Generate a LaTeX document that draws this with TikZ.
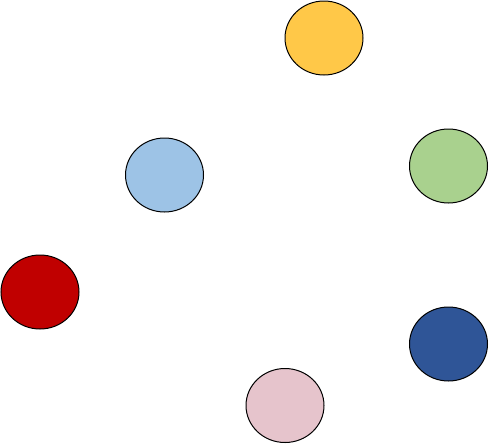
\documentclass[tikz,border=0pt]{standalone}
\usepackage{pgf,tikz}
\usetikzlibrary{calc,shapes}

\definecolor{cyellow}{RGB}{255,200,72}
\definecolor{clblue}{RGB}{157,195,230}
\definecolor{cgreen}{RGB}{169,209,142}
\definecolor{cred}{RGB}{192,0,0}
\definecolor{cdblue}{RGB}{47,85,151}
\definecolor{cpink}{RGB}{230,196,204}

\tikzset{
  blob/.style={ellipse,draw=black,line width=1pt,inner sep=0pt,
    minimum width=78pt,minimum height=74pt}
}

\begin{document}
\begin{tikzpicture}[x=1pt,y=-1pt]
    \useasboundingbox (0,0) rectangle (489,445);
    % top
    \node[blob,fill=cyellow] (yellow) at (324,38) {};
    % middle
    \node[blob,fill=clblue] (lblue) at (164.5,175) {};
    \node[blob,fill=cgreen] (green) at (448.5,166) {};
    % bottom
    \node[blob,fill=cred] (red) at (40,292) {};
    \node[blob,fill=cdblue] (dblue) at (448.5,344) {};
    \node[blob,fill=cpink] (pink) at (285,405.5) {};
  \end{tikzpicture}
\end{document}
